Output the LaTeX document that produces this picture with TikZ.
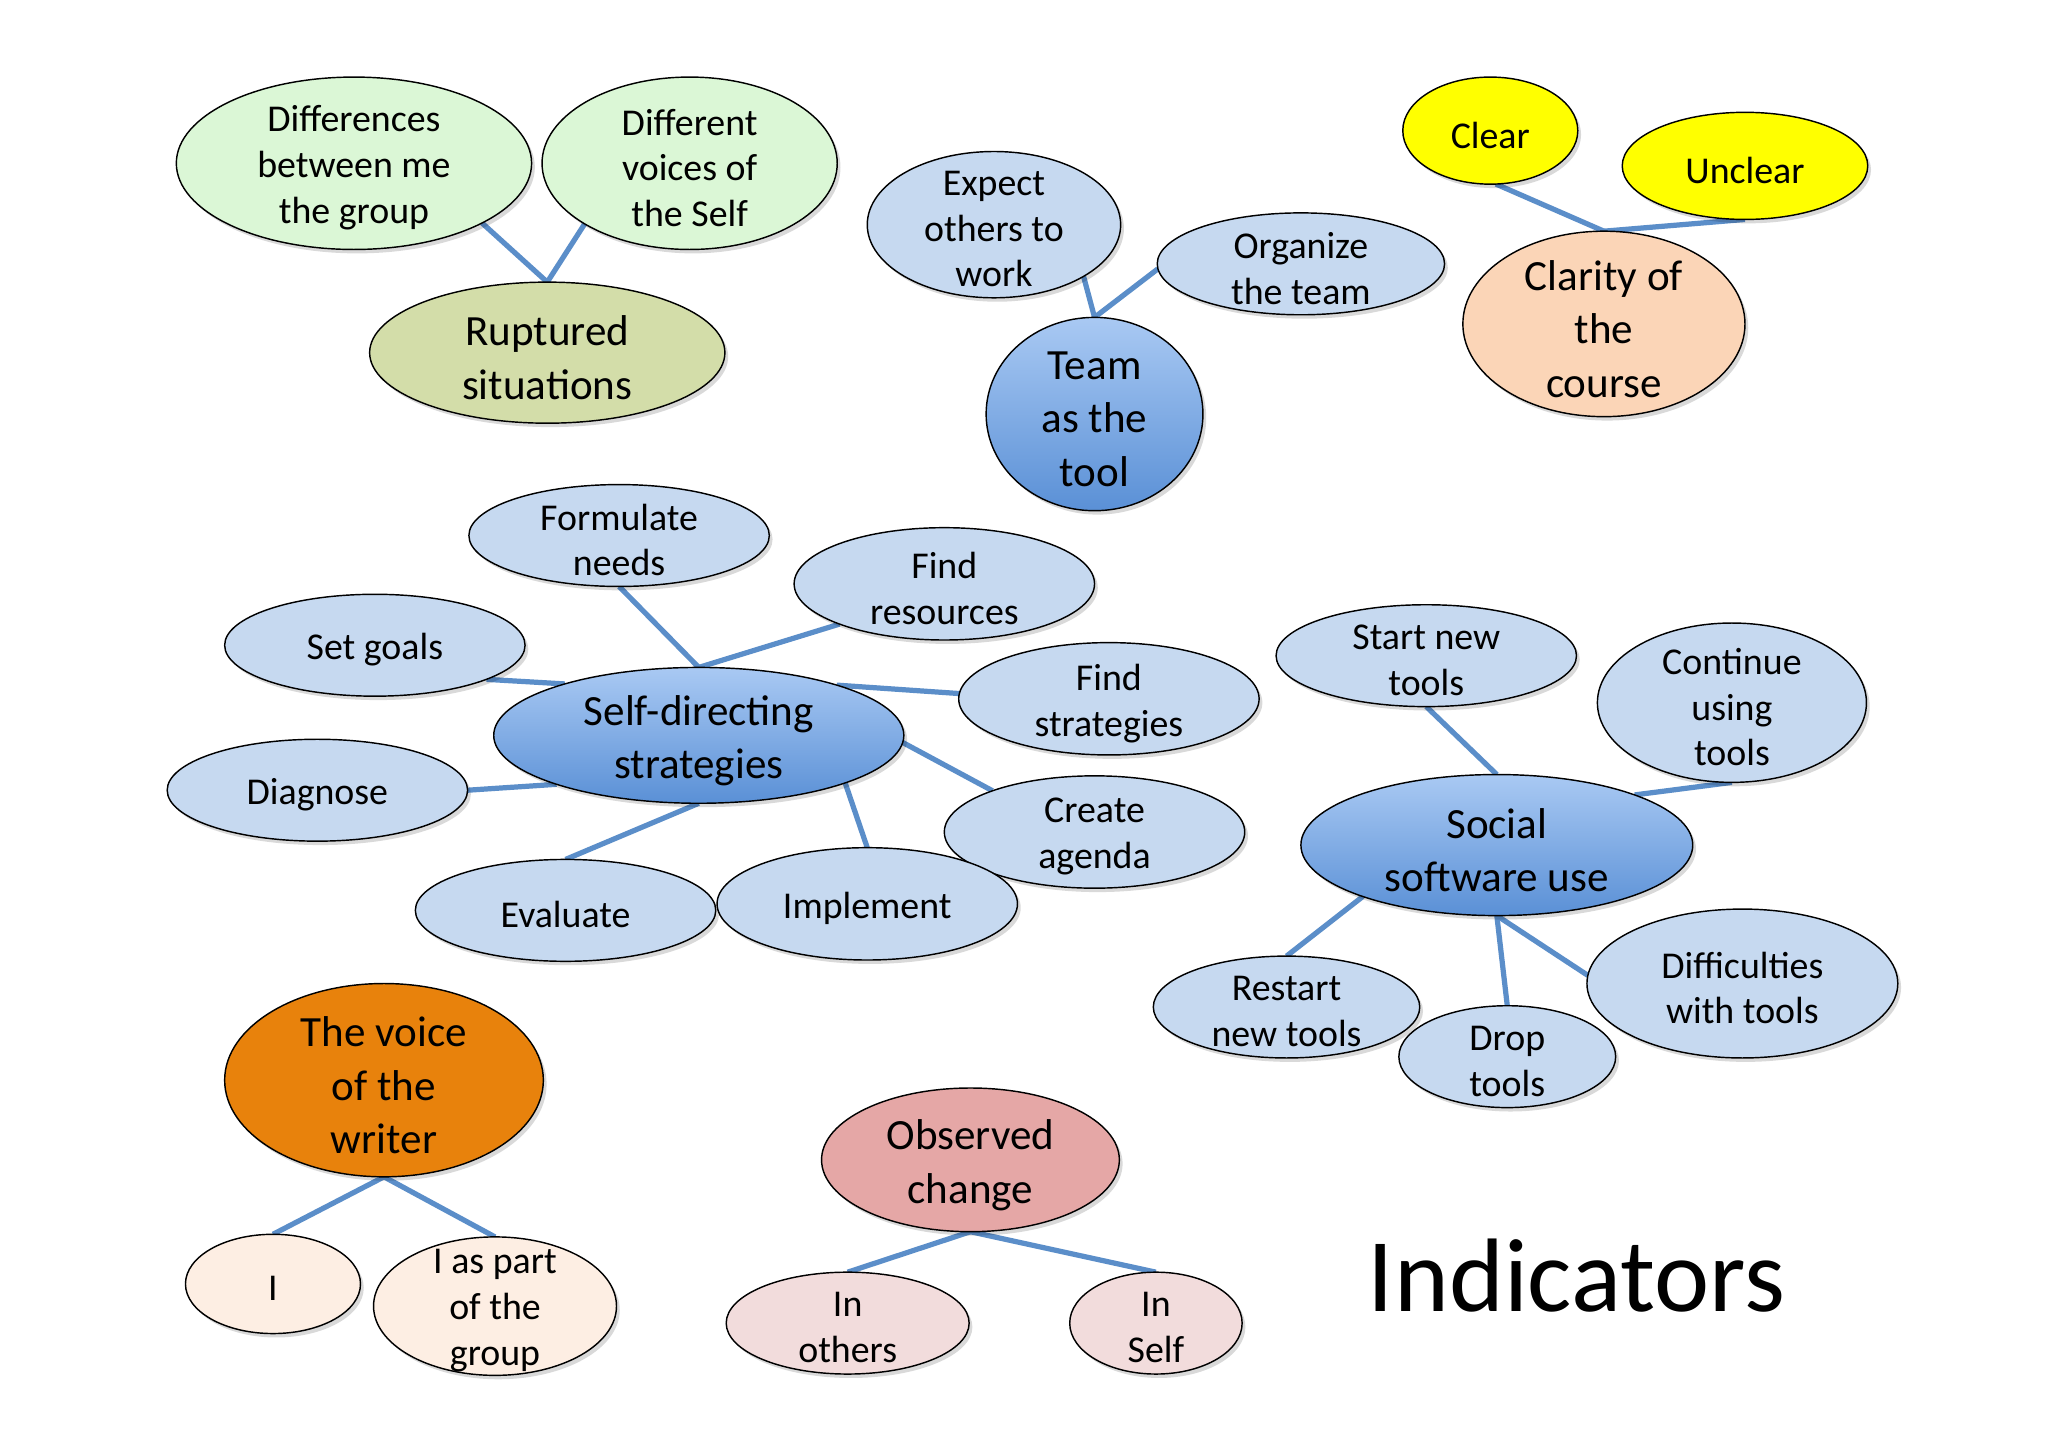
\documentclass[tikz,border=0pt]{standalone}
\usepackage{fontspec}
\setmainfont{Carlito}
\usetikzlibrary{shapes.geometric,shadows,backgrounds}
\definecolor{lgreen}{HTML}{DBF7D6}
\definecolor{oliveg}{HTML}{D3DDA9}
\definecolor{lblue}{HTML}{C6D9F0}
\definecolor{btop}{HTML}{A9C9F3}
\definecolor{bbot}{HTML}{5A90D6}
\definecolor{yel}{HTML}{FFFF00}
\definecolor{peach}{HTML}{FBD5B7}
\definecolor{orng}{HTML}{E8820C}
\definecolor{lpeach}{HTML}{FDEEE3}
\definecolor{rose}{HTML}{E5A7A6}
\definecolor{lrose}{HTML}{F2DCDC}
\definecolor{linec}{HTML}{5B8EC9}
\tikzset{
  ell/.style={ellipse, draw=black, line width=1.1pt, inner sep=0pt, outer sep=0pt,
    drop shadow={shadow xshift=2.5pt, shadow yshift=-3pt, opacity=0.15, fill=black}},
  gr/.style={ell, fill=lgreen},
  ol/.style={ell, fill=oliveg},
  lb/.style={ell, fill=lblue},
  mb/.style={ell, top color=btop, bottom color=bbot},
  ye/.style={ell, fill=yel},
  pe/.style={ell, fill=peach},
  orn/.style={ell, fill=orng},
  lp/.style={ell, fill=lpeach},
  ro/.style={ell, fill=rose},
  lr/.style={ell, fill=lrose},
  txs/.style={align=center, inner sep=0pt, yshift=-3.5pt, font=\fontsize{29}{35}\selectfont},
  txb/.style={align=center, inner sep=0pt, yshift=-4pt, font=\fontsize{33}{41}\selectfont},
  conn/.style={draw=linec, line width=4pt},
}
\newcommand\bub[8]{%
  \node[#1, minimum width=#5pt, minimum height=#6pt] (#2) at (#3,#4) {};
  \node[#7] (#2t) at (#2.center) {#8};}
\begin{document}
\begin{tikzpicture}[x=1pt,y=-1pt]
\useasboundingbox (0,0) rectangle (1568,1108);

% top-left cluster
\bub{gr}{dg}{271}{125}{272}{132}{txs}{Differences\\between me\\the group}
\bub{gr}{dv}{528}{125}{226}{132}{txs}{Different\\voices of\\the Self}
\bub{ol}{rs}{419}{270}{272}{108}{txb}{Ruptured\\situations}

% team cluster
\bub{lb}{ex}{761}{172}{194}{112}{txs}{Expect\\others to\\work}
\bub{lb}{ot}{996}{202}{220}{78}{txs}{Organize\\the team}
\bub{mb}{tt}{838}{317}{166}{148}{txb}{Team\\as the\\tool}

% clarity cluster
\bub{ye}{cl}{1141}{100}{134}{82}{txs}{Clear}
\bub{ye}{uc}{1336}{127}{188}{82}{txs}{Unclear}
\bub{pe}{cc}{1228}{248}{216}{142}{txb}{Clarity of\\the\\course}

% self-directing cluster
\bub{lb}{fn}{474}{410}{230}{78}{txs}{Formulate\\needs}
\bub{lb}{fr}{723}{447}{230}{86}{txs}{Find\\resources}
\bub{lb}{sg}{287}{494}{230}{78}{txs}{Set goals}
\bub{mb}{sd}{535}{563}{314}{104}{txb}{Self-directing\\strategies}
\bub{lb}{fs}{849}{535}{230}{86}{txs}{Find\\strategies}
\bub{lb}{dn}{243}{605}{230}{78}{txs}{Diagnose}
\bub{lb}{ca}{838}{637}{230}{86}{txs}{Create\\agenda}
\bub{lb}{ev}{433}{697}{230}{78}{txs}{Evaluate}
\bub{lb}{im}{664}{692}{230}{86}{txs}{Implement}

% social software cluster
\bub{lb}{sn}{1092}{502}{230}{78}{txs}{Start new\\tools}
\bub{lb}{cu}{1326}{538}{206}{122}{txs}{Continue\\using\\tools}
\bub{mb}{so}{1146}{647}{300}{108}{txb}{Social\\software use}
\bub{lb}{rn}{985}{771}{204}{78}{txs}{Restart\\new tools}
\bub{lb}{dt}{1154}{809}{166}{78}{txs}{Drop\\tools}
\bub{lb}{dw}{1334}{753}{238}{114}{txs}{Difficulties\\with tools}

% voice cluster
\bub{orn}{vw}{294}{827}{244}{148}{txb}{The voice\\of the\\writer}
\bub{lp}{ii}{209}{983}{134}{76}{txs}{I}
\bub{lp}{ip}{379}{1000}{186}{106}{txs}{I as part\\of the\\group}

% observed change cluster
\bub{ro}{oc}{743}{888}{228}{110}{txb}{Observed\\change}
\bub{lr}{io}{649}{1013}{186}{78}{txs}{In\\others}
\bub{lr}{is}{885}{1013}{132}{78}{txs}{In\\Self}

\node[inner sep=0pt, font=\fontsize{80}{90}\selectfont] (ind) at (1207,977) {Indicators};

\begin{pgfonlayer}{background}
\fill[white] (0,0) rectangle (1568,1108);
\draw[conn] (dg.-25.4) -- (rs.north);
\draw[conn] (dv.-150) -- (rs.north);
\draw[conn] (ex.-30.7) -- (tt.north);
\draw[conn] (ot.182) -- (tt.north);
\draw[conn] (cl.-84) -- (cc.north);
\draw[conn] (uc.south) -- (cc.north);
\draw[conn] (fn.south) -- (sd.north);
\draw[conn] (fr.-159.5) -- (sd.north);
\draw[conn] (sg.-17.4) -- (sd.159.6);
\draw[conn] (fs.178.5) -- (sd.20.9);
\draw[conn] (dn.east) -- (sd.-161.4);
\draw[conn] (ca.158.3) -- (sd.-2);
\draw[conn] (ev.north) -- (sd.south);
\draw[conn] (im.north) -- (sd.-18.1);
\draw[conn] (sn.south) -- (so.north);
\draw[conn] (cu.south) -- (so.20);
\draw[conn] (rn.north) -- (so.-159.3);
\draw[conn] (dt.north) -- (so.south);
\draw[conn] (dw.177) -- (so.south);
\draw[conn] (vw.south) -- (ii.north);
\draw[conn] (vw.south) -- (ip.north);
\draw[conn] (oc.south) -- (io.north);
\draw[conn] (oc.south) -- (is.north);
\end{pgfonlayer}
\end{tikzpicture}
\end{document}
